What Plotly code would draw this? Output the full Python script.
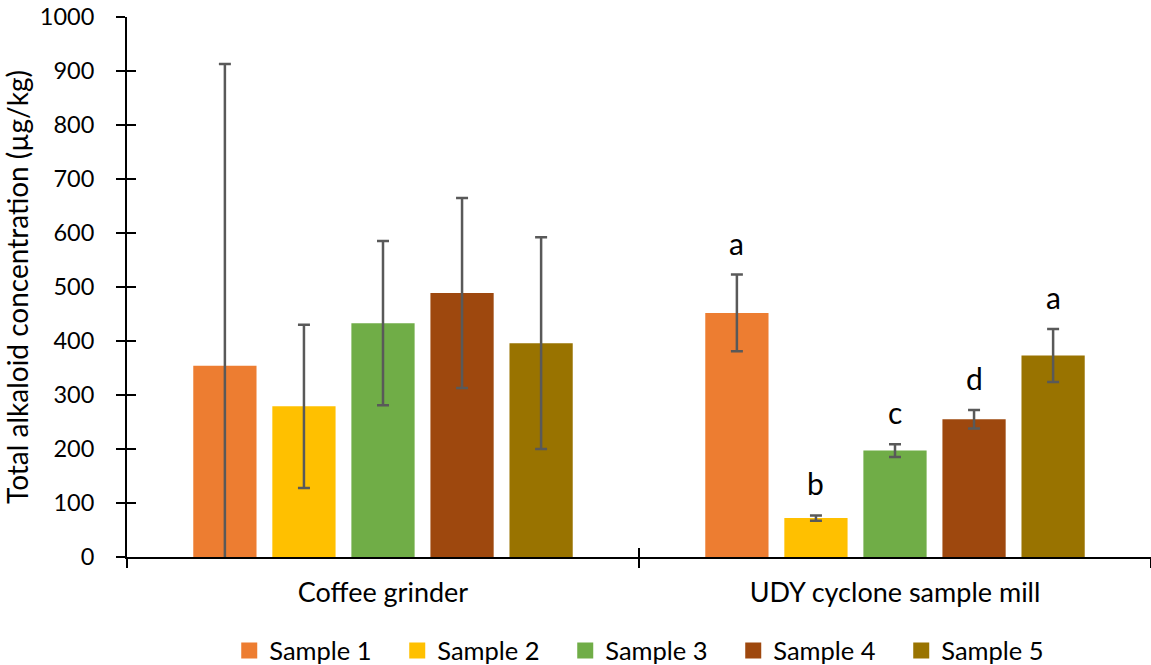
import plotly.graph_objects as go

categories = ["Coffee grinder", "UDY cyclone sample mill"]
samples = ["Sample 1", "Sample 2", "Sample 3", "Sample 4", "Sample 5"]
colors = ["#ED7D31", "#FFC000", "#70AD47", "#9E480E", "#997300"]

sample1 = [354, 452]
sample2 = [279, 72]
sample3 = [433, 197]
sample4 = [489, 255]
sample5 = [396, 373]

err1 = [559, 71]
err2 = [151, 5]
err3 = [152, 12]
err4 = [176, 17]
err5 = [196, 49]

letters_udy = ["a", "b", "c", "d", "a"]

values = [sample1, sample2, sample3, sample4, sample5]
errors = [err1, err2, err3, err4, err5]

FONT = "Lato"
fig = go.Figure()
for name, v, e, c in zip(samples, values, errors, colors):
    fig.add_trace(go.Bar(
        x=categories, y=v, name=name, showlegend=False,
        marker=dict(color=c, line=dict(width=0)),
        error_y=dict(type="data", array=e, visible=True, color="#595959",
                     thickness=2.5, width=6),
    ))
# legend entries (square swatches) on an overlaid axis pair that also draws the inner tick halves
for name, c in zip(samples, colors):
    fig.add_trace(go.Scatter(
        x=[categories[0]], y=[None], name=name, mode="markers",
        marker=dict(symbol="square", size=16, color=c),
        xaxis="x2", yaxis="y2", hoverinfo="skip",
    ))

W, H = 1151, 665
ml, mr, mt, mb = 127, 0, 17, 108
plot_w = W - ml - mr
bargap = 0.228
cat_w = plot_w / len(categories)
slot = cat_w * (1 - bargap) / len(samples)

annotations = []
for i, (lt, v, e) in enumerate(zip(letters_udy, values, errors)):
    annotations.append(dict(
        x=categories[1], y=v[1] + e[1], xref="x", yref="y",
        text=lt, showarrow=False, xshift=(i - 2) * slot,
        yanchor="bottom", yshift=12,
        font=dict(family=FONT, size=30, color="#000000"),
    ))

axis_common = dict(showgrid=False, zeroline=False, tickcolor="#000000", tickwidth=2)

fig.update_layout(
    width=W, height=H,
    margin=dict(l=ml, r=mr, t=mt, b=mb, autoexpand=False),
    paper_bgcolor="white", plot_bgcolor="white",
    barmode="group", bargap=bargap, bargroupgap=0.2,
    font=dict(family=FONT, size=24, color="#000000"),
    showlegend=True,
    legend=dict(orientation="h", x=0.51, xanchor="center", y=-0.174, yanchor="middle",
                font=dict(family=FONT, size=25.5), entrywidth=123, entrywidthmode="pixels",
                itemwidth=30, traceorder="normal", itemsizing="trace"),
    annotations=annotations,
    xaxis=dict(
        type="category", categoryarray=categories, categoryorder="array",
        range=[-0.5, 1.5], showline=True, linecolor="#000000", linewidth=2,
        ticks="outside", tickson="boundaries", ticklen=9,
        tickfont=dict(family=FONT, size=27), ticklabelstandoff=11,
        automargin=False, **axis_common,
    ),
    yaxis=dict(
        range=[0, 1000], tick0=0, dtick=100, showline=True, linecolor="#000000", linewidth=2,
        ticks="outside", ticklen=9,
        tickfont=dict(family=FONT, size=23.5), ticklabeloverflow="allow",
        ticklabelstandoff=17, automargin=False,
        title=dict(text="Total alkaloid concentration (µg/kg)", font=dict(family=FONT, size=28),
                   standoff=6),
        **axis_common,
    ),
    xaxis2=dict(
        type="category", categoryarray=categories, categoryorder="array",
        range=[-0.5, 1.5], overlaying="x", anchor="y2", showline=False,
        ticks="inside", tickson="boundaries", ticklen=9, showticklabels=False,
        automargin=False, **axis_common,
    ),
    yaxis2=dict(
        range=[0, 1000], tick0=0, dtick=100, overlaying="y", anchor="x2", side="left",
        showline=False, ticks="inside", ticklen=9, showticklabels=False,
        automargin=False, **axis_common,
    ),
)

fig.write_html("out.html", config={"displayModeBar": False},
               post_script="document.body.style.margin='0';")
